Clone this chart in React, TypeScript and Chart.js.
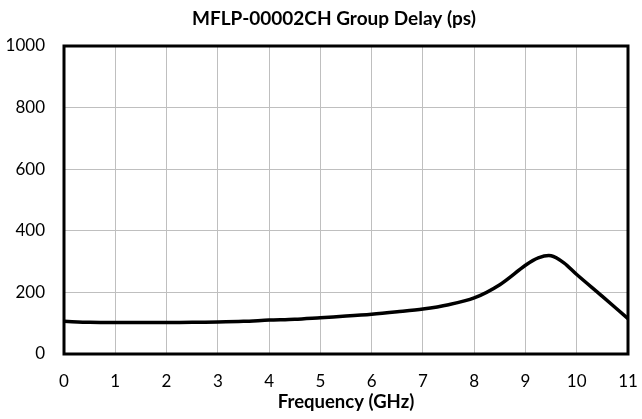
import React, { useEffect, useRef } from "react";
import { Chart, registerables } from "chart.js";

Chart.register(...registerables);

const TITLE = "MFLP-00002CH Group Delay (ps)";
const X_TITLE = "Frequency (GHz)";
const frequencyGHz = [0, 0.5, 1, 1.5, 2, 2.5, 3, 3.5, 4, 4.5, 5, 5.5, 6, 6.5, 7, 7.5, 8, 8.5, 9, 9.25, 9.5, 9.75, 10, 10.5, 11];
const groupDelayPs = [106, 103, 102, 102, 102, 103, 104, 106, 110, 113, 118, 123, 129, 137, 146, 160, 182, 225, 288, 312, 319, 296, 258, 187, 115];
const X_MIN = 0, X_MAX = 11, X_STEP = 1;
const Y_MIN = 0, Y_MAX = 1000, Y_STEP = 200;

const FONT = "Lato, 'Open Sans', sans-serif";

export default function App() {
  const ref = useRef<HTMLCanvasElement | null>(null);
  useEffect(() => {
    document.body.style.margin = "0";
    const canvas = ref.current!;
    const framePlugin = {
      id: "frame",
      beforeDatasetsDraw(chart: any) {
        const { ctx, chartArea: a } = chart;
        ctx.save();
        ctx.strokeStyle = "#000";
        ctx.lineWidth = 3;
        ctx.strokeRect(a.left, a.top, a.right - a.left, a.bottom - a.top);
        ctx.restore();
      },
      afterDraw(chart: any) {
        const { ctx } = chart;
        ctx.save();
        ctx.fillStyle = "#000";
        ctx.font = `bold 19px ${FONT}`;
        ctx.textAlign = "center";
        ctx.textBaseline = "middle";
        ctx.fillText(TITLE, 334, 19);
        ctx.restore();
      },
    };
    const chart = new Chart(canvas, {
      type: "line",
      data: {
        datasets: [
          {
            data: frequencyGHz.map((f, i) => ({ x: f, y: groupDelayPs[i] })),
            borderColor: "#000",
            borderWidth: 3.5,
            pointRadius: 0,
            tension: 0.3,
            fill: false,
          },
        ],
      },
      options: {
        responsive: false,
        animation: false,
        layout: { padding: { top: 46, right: 14, left: 0, bottom: 0 } },
        plugins: { legend: { display: false }, title: { display: false }, tooltip: { enabled: false } },
        scales: {
          x: {
            type: "linear",
            min: X_MIN,
            max: X_MAX,
            afterFit: (s: any) => { s.height = 65; s.paddingLeft = 0; s.paddingRight = 0; },
            ticks: { stepSize: X_STEP, color: "#000", padding: 17, font: { family: FONT, size: 17 } },
            grid: { color: "#bfbfbf", lineWidth: 1, drawTicks: false },
            border: { display: false },
            title: {
              display: true,
              text: X_TITLE,
              color: "#000",
              font: { family: FONT, size: 18.5, weight: "bold" },
              padding: { top: 0, bottom: 6 },
            },
          },
          y: {
            min: Y_MIN,
            max: Y_MAX,
            afterFit: (s: any) => { s.width = 64; },
            ticks: {
              stepSize: Y_STEP,
              color: "#000",
              padding: 19,
              font: { family: FONT, size: 17 },
              callback: (v: any) => String(v),
            },
            grid: { color: "#bfbfbf", lineWidth: 1, drawTicks: false },
            border: { display: false },
          },
        },
      },
      plugins: [framePlugin],
    } as any);
    return () => chart.destroy();
  }, []);
  return (
    <div style={{ width: 642, height: 419 }}>
      <canvas ref={ref} width={642} height={419} style={{ display: "block" }} />
    </div>
  );
}
